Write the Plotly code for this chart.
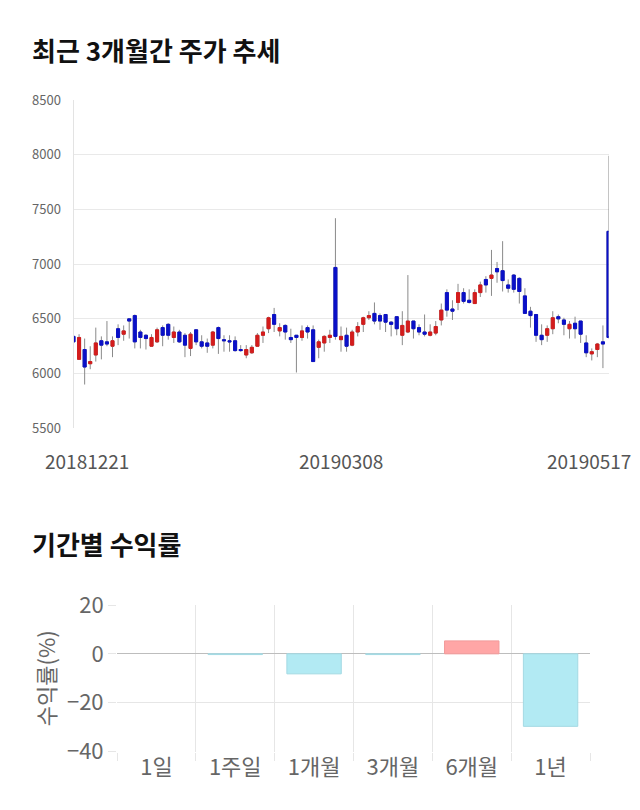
import plotly.graph_objects as go

# ---------------- data ----------------
date_labels = ["20181221", "20190308", "20190517"]

opens = [6340, 6130, 6220, 6090, 6170, 6300, 6290, 6250, 6410, 6360,
         6500, 6530, 6380, 6350, 6250, 6290, 6420, 6450, 6330, 6380,
         6350, 6230, 6400, 6290, 6280, 6260, 6420, 6310, 6300, 6300,
         6220, 6170, 6190, 6250, 6350, 6410, 6540, 6390, 6440, 6330,
         6350, 6330, 6420, 6400, 6240, 6280, 6330, 6970, 6310, 6350,
         6260, 6380, 6450, 6510, 6550, 6530, 6540, 6470, 6520, 6350,
         6380, 6480, 6420, 6380, 6350, 6370, 6490, 6740, 6590, 6650,
         6740, 6670, 6640, 6740, 6860, 6870, 6960, 6940, 6810, 6900,
         6870, 6710, 6570, 6540, 6350, 6350, 6410, 6520, 6490, 6410,
         6460, 6480, 6280, 6180, 6220, 6290, 7300]
highs = [6400, 6360, 6320, 6250, 6420, 6340, 6480, 6340, 6450, 6440,
         6500, 6540, 6400, 6360, 6360, 6420, 6440, 6460, 6430, 6400,
         6370, 6380, 6400, 6350, 6320, 6390, 6430, 6350, 6350, 6340,
         6260, 6260, 6260, 6370, 6430, 6520, 6600, 6460, 6450, 6410,
         6350, 6440, 6440, 6440, 6310, 6350, 6400, 7420, 6430, 6420,
         6400, 6470, 6520, 6570, 6650, 6550, 6540, 6480, 6520, 6570,
         6900, 6480, 6450, 6540, 6450, 6480, 6640, 6770, 6670, 6820,
         6780, 6770, 6770, 6840, 6890, 7130, 7020, 7210, 6860, 6910,
         6880, 6780, 6610, 6540, 6450, 6440, 6570, 6540, 6510, 6480,
         6520, 6480, 6350, 6230, 6280, 6440, 7990]
lows = [6250, 6130, 5900, 6040, 6110, 6130, 6250, 6150, 6260, 6300,
        6320, 6230, 6230, 6220, 6250, 6280, 6250, 6310, 6280, 6280,
        6150, 6160, 6260, 6230, 6190, 6230, 6180, 6200, 6200, 6200,
        6200, 6140, 6180, 6250, 6280, 6370, 6380, 6340, 6310, 6280,
        6010, 6300, 6320, 6110, 6140, 6200, 6280, 6310, 6200, 6200,
        6250, 6340, 6380, 6490, 6450, 6400, 6380, 6340, 6350, 6260,
        6370, 6320, 6350, 6340, 6340, 6350, 6440, 6520, 6490, 6580,
        6640, 6640, 6640, 6700, 6740, 6710, 6830, 6750, 6740, 6740,
        6640, 6550, 6420, 6290, 6260, 6290, 6360, 6460, 6350, 6320,
        6320, 6280, 6150, 6120, 6150, 6050, 6320]
closes = [6290, 6330, 6060, 6110, 6280, 6260, 6270, 6300, 6330, 6390,
          6480, 6290, 6330, 6320, 6330, 6400, 6350, 6350, 6380, 6290,
          6260, 6360, 6290, 6250, 6250, 6380, 6320, 6300, 6290, 6210,
          6210, 6220, 6240, 6350, 6380, 6510, 6450, 6420, 6380, 6310,
          6330, 6390, 6380, 6110, 6290, 6340, 6350, 6340, 6340, 6250,
          6380, 6430, 6510, 6530, 6480, 6480, 6470, 6450, 6410, 6440,
          6480, 6410, 6380, 6360, 6380, 6430, 6580, 6580, 6570, 6740,
          6660, 6650, 6740, 6810, 6810, 6900, 6930, 6850, 6780, 6770,
          6750, 6550, 6530, 6350, 6310, 6410, 6510, 6500, 6450, 6450,
          6410, 6360, 6190, 6200, 6270, 6270, 6330]

periods = ["1일", "1주일", "1개월", "3개월", "6개월", "1년"]
returns = [0.0, -0.3, -8.2, -0.3, 5.3, -29.7]

# ---------------- styles ----------------
RED = "#d41c1c"
BLUE = "#0a10c8"
WICK = "#8a8a8a"
FONT = "Noto Sans CJK KR"
OFF = 8                      # page body margin
W, H = 640 - OFF, 810 - OFF

idx = list(range(len(opens)))
body_hi = [max(o, c) for o, c in zip(opens, closes)]
body_lo = [min(o, c) for o, c in zip(opens, closes)]

fig = go.Figure()

# wicks
fig.add_trace(go.Candlestick(
    x=idx, open=opens, high=highs, low=lows, close=closes,
    increasing=dict(line=dict(color=WICK, width=1), fillcolor=WICK),
    decreasing=dict(line=dict(color=WICK, width=1), fillcolor=WICK),
    whiskerwidth=0, showlegend=False, hoverinfo="skip",
    xaxis="x", yaxis="y"))
# bodies
fig.add_trace(go.Candlestick(
    x=idx, open=opens, high=body_hi, low=body_lo, close=closes,
    increasing=dict(line=dict(color=RED, width=1), fillcolor=RED),
    decreasing=dict(line=dict(color=BLUE, width=1), fillcolor=BLUE),
    whiskerwidth=0, showlegend=False,
    xaxis="x", yaxis="y"))

bar_fill = ["#ffa6a6" if v > 0 else "#b2eaf3" for v in returns]
bar_line = ["#f29a9a" if v > 0 else "#a3d9e3" for v in returns]
bar_lw = [0 if v == 0 else 1 for v in returns]
fig.add_trace(go.Bar(
    x=periods, y=returns, width=0.69,
    marker=dict(color=bar_fill, line=dict(color=bar_line, width=bar_lw)),
    showlegend=False, xaxis="x2", yaxis="y2"))

def px_x(p):
    return (p - OFF) / W

def px_y(p):
    return 1 - (p - OFF) / H

fig.update_layout(
    template="none",
    width=W, height=H,
    margin=dict(l=0, r=0, t=0, b=0, pad=0),
    paper_bgcolor="white", plot_bgcolor="white",
    font=dict(family=FONT, color="#666"),
    boxgap=0.22,
    xaxis=dict(domain=[px_x(73.5), px_x(608.5)], range=[0, len(opens) - 1],
               showgrid=False, showticklabels=False, zeroline=False,
               showline=False, ticks="", automargin=False,
               rangeslider=dict(visible=False), fixedrange=True),
    yaxis=dict(domain=[px_y(428.3), px_y(100)], range=[5500, 8500], dtick=500,
               showgrid=True, gridcolor="#e9e9e9", gridwidth=1,
               zeroline=False, showline=True, ticks="",
               linecolor="#e3e3e3", linewidth=1, automargin=False,
               tickfont=dict(size=13, color="#666", family=FONT),
               ticklabelstandoff=9),
    xaxis2=dict(domain=[px_x(117), px_x(590)], type="category",
                tickson="boundaries", showgrid=True, gridcolor="#e6e6e6",
                gridwidth=1, showline=False, zeroline=False,
                ticks="outside", ticklen=8, tickcolor="#e6e6e6", tickwidth=1,
                tickfont=dict(size=22, color="#666", family=FONT),
                automargin=False, anchor="y2"),
    yaxis2=dict(domain=[px_y(751.5), px_y(605)], range=[-40, 20], dtick=20,
                showgrid=True, gridcolor="#e6e6e6", gridwidth=1,
                zeroline=True, zerolinecolor="#bdbdbd",
                zerolinewidth=1, showline=False,
                ticks="outside", ticklen=8, tickcolor="#e6e6e6", tickwidth=1,
                tickfont=dict(size=22, color="#666", family=FONT),
                title=dict(text="수익률(%)", font=dict(size=22, color="#666", family=FONT),
                           standoff=5),
                automargin=False, anchor="x2"),
)

annots = [
    dict(text="<b>최근 3개월간 주가 추세</b>", x=px_x(30), y=px_y(50),
         font=dict(size=26, color="#111", family=FONT)),
    dict(text="<b>기간별 수익률</b>", x=px_x(30), y=px_y(543),
         font=dict(size=26, color="#111", family=FONT)),
]
for lab, cx in zip(date_labels, [87, 341, 589]):
    annots.append(dict(text=lab, x=px_x(cx), y=px_y(460), xanchor="center",
                       font=dict(size=19, color="#555", family=FONT)))
for a in annots:
    a.setdefault("xanchor", "left")
    a.update(xref="paper", yref="paper", yanchor="middle", showarrow=False)
fig.update_layout(annotations=annots)

fig.write_html("out.html")
